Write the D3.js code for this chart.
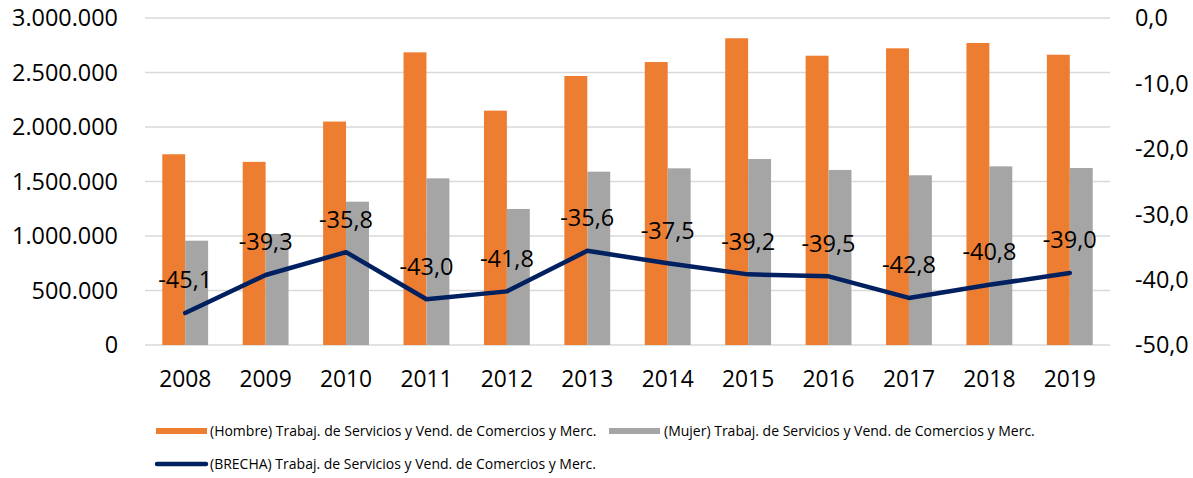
<!DOCTYPE html>
<html>
<head>
<meta charset="utf-8">
<script src="https://cdn.jsdelivr.net/npm/d3@7.9.0/dist/d3.min.js"></script>
<style>
  html, body { margin: 0; padding: 0; background: #fff; }
  svg { display: block; font-family: 'Open Sans', sans-serif; }
</style>
</head>
<body>
<svg id="chart" width="1193" height="478"></svg>
<script>
const years = ['2008', '2009', '2010', '2011', '2012', '2013', '2014', '2015', '2016', '2017', '2018', '2019'];
const hombre = [1750000, 1680000, 2050000, 2685000, 2150000, 2468000, 2596000, 2814000, 2654000, 2722000, 2771000, 2663000];
const mujer = [957000, 1018000, 1315000, 1529000, 1248000, 1590000, 1621000, 1706000, 1606000, 1557000, 1639000, 1624000];
const brecha = [-45.1, -39.3, -35.8, -43.0, -41.8, -35.6, -37.5, -39.2, -39.5, -42.8, -40.8, -39.0];
const leftTicks = [0, 500000, 1000000, 1500000, 2000000, 2500000, 3000000];
const rightTicks = [0, -10, -20, -30, -40, -50];
const seriesNames = [
  '(Hombre) Trabaj. de Servicios y Vend. de Comercios y Merc.',
  '(Mujer) Trabaj. de Servicios y Vend. de Comercios y Merc.',
  '(BRECHA) Trabaj. de Servicios y Vend. de Comercios y Merc.'
];
const colors = { hombre: '#ED7D31', mujer: '#A5A5A5', brecha: '#002060' };

const svg = d3.select('#chart');
const plot = { left: 145, right: 1110, top: 18, bottom: 345 };

const x0 = d3.scaleBand().domain(years).range([plot.left, plot.right])
  .paddingInner(0.43).paddingOuter(0.215);
const x1 = d3.scaleBand().domain(['hombre', 'mujer']).range([0, x0.bandwidth()]);
const yL = d3.scaleLinear().domain([0, 3000000]).range([plot.bottom, plot.top]);
const yR = d3.scaleLinear().domain([-50, 0]).range([plot.bottom, plot.top]);

// thousands with dots
const fmtL = d => d3.format(',')(d).replace(/,/g, '.');
const fmtR = d => d3.format('.1f')(d).replace('.', ',').replace('−', '-');

// gridlines
svg.append('g').selectAll('line').data(leftTicks).join('line')
  .attr('x1', plot.left).attr('x2', plot.right)
  .attr('y1', d => yL(d)).attr('y2', d => yL(d))
  .attr('stroke', '#D9D9D9').attr('stroke-width', 1.3);

// left axis labels
svg.append('g').selectAll('text').data(leftTicks).join('text')
  .attr('x', 118).attr('y', d => yL(d)).attr('dy', '0.357em')
  .attr('text-anchor', 'end').attr('font-size', 23.4).attr('fill', '#000')
  .text(fmtL);

// right axis labels
svg.append('g').selectAll('text').data(rightTicks).join('text')
  .attr('x', 1135).attr('y', d => yR(d)).attr('dy', '0.357em')
  .attr('text-anchor', 'start').attr('font-size', 23.4).attr('fill', '#000')
  .text(fmtR);

// year labels
svg.append('g').selectAll('text').data(years).join('text')
  .attr('x', d => x0(d) + x0.bandwidth() / 2).attr('y', 387)
  .attr('text-anchor', 'middle').attr('font-size', 22.8).attr('fill', '#000')
  .text(d => d);

// bars
const groups = svg.append('g').selectAll('g').data(years).join('g')
  .attr('transform', d => `translate(${x0(d)},0)`);
groups.append('rect')
  .attr('x', x1('hombre')).attr('width', x1.bandwidth())
  .attr('y', (d, i) => yL(hombre[i])).attr('height', (d, i) => plot.bottom - yL(hombre[i]))
  .attr('fill', colors.hombre);
groups.append('rect')
  .attr('x', x1('mujer')).attr('width', x1.bandwidth())
  .attr('y', (d, i) => yL(mujer[i])).attr('height', (d, i) => plot.bottom - yL(mujer[i]))
  .attr('fill', colors.mujer);

// brecha line
const line = d3.line()
  .x((d, i) => x0(years[i]) + x0.bandwidth() / 2)
  .y(d => yR(d));
svg.append('path').datum(brecha)
  .attr('d', line).attr('fill', 'none')
  .attr('stroke', colors.brecha).attr('stroke-width', 4.5)
  .attr('stroke-linejoin', 'round').attr('stroke-linecap', 'round');

// data labels
svg.append('g').selectAll('text').data(brecha).join('text')
  .attr('x', (d, i) => x0(years[i]) + x0.bandwidth() / 2)
  .attr('y', d => yR(d) - 33).attr('dy', '0.357em')
  .attr('text-anchor', 'middle').attr('font-size', 23.5).attr('fill', '#000')
  .text(fmtR);

// legend
const leg = svg.append('g').attr('font-size', 14).attr('fill', '#000');
leg.append('rect').attr('x', 156).attr('y', 428).attr('width', 51).attr('height', 6).attr('fill', colors.hombre);
leg.append('text').attr('x', 210).attr('y', 431).attr('dy', '0.35em').text(seriesNames[0]);
leg.append('rect').attr('x', 609).attr('y', 428).attr('width', 51).attr('height', 6).attr('fill', colors.mujer);
leg.append('text').attr('x', 664).attr('y', 431).attr('dy', '0.35em').text(seriesNames[1]);
leg.append('line').attr('x1', 157).attr('x2', 206).attr('y1', 464).attr('y2', 464)
  .attr('stroke', colors.brecha).attr('stroke-width', 4.5).attr('stroke-linecap', 'round');
leg.append('text').attr('x', 210).attr('y', 464).attr('dy', '0.35em').text(seriesNames[2]);
</script>
</body>
</html>
